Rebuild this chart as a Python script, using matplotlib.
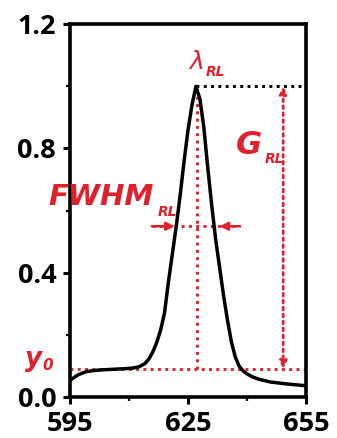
import matplotlib
matplotlib.use("Agg")
import matplotlib.pyplot as plt

RED = "#e0202a"

# spectrum
wavelength = [595, 597, 599, 601, 603, 606, 609, 611, 612.5, 614, 615, 616,
              617, 618, 619, 620, 621, 622, 623, 624, 625, 626, 627, 628,
              629, 630, 631, 632, 633, 634, 635, 636, 637, 638, 639, 640,
              641.5, 643, 646, 650, 655]
intensity = [0.055, 0.072, 0.082, 0.086, 0.088, 0.090, 0.092, 0.094, 0.098,
             0.108, 0.122, 0.145, 0.175, 0.215, 0.27, 0.37, 0.46, 0.55, 0.65,
             0.76, 0.86, 0.94, 1.0, 0.96, 0.87, 0.74, 0.62, 0.51, 0.42, 0.33,
             0.25, 0.18, 0.13, 0.10, 0.085, 0.075, 0.065, 0.058, 0.049,
             0.043, 0.037]

peak_x = 627.0
peak_y = 1.0
y0 = 0.092
half_y = 0.55
gain_x = 649.2
fwhm_left = (615.8, 621.6)
fwhm_right = (638.2, 633.0)

x_ticks = [595, 625, 655]
x_minor = [610, 640]
y_ticks = [0.0, 0.4, 0.8, 1.2]
y_minor = [0.2, 0.6, 1.0]

plt.rcParams["font.family"] = ["Open Sans", "DejaVu Sans"]

fig = plt.figure(figsize=(3.37, 4.38), dpi=100)
ax = fig.add_axes([0.208, 0.093, 0.700, 0.852])

ax.plot(wavelength, intensity, color="black", lw=2.5, solid_joinstyle="round",
        solid_capstyle="butt", zorder=3)

dot = dict(ls=(0, (1, 1.5)), lw=2.1)
# baseline y0 and peak marker lines
ax.plot([595, 655], [y0, y0], color=RED, **dot, zorder=2)
ax.plot([peak_x + 0.2, peak_x + 0.2], [y0, peak_y], color=RED, **dot, zorder=2)
ax.plot([peak_x, 655], [peak_y, peak_y], color="black", **dot, zorder=2)

# gain double arrow
ax.annotate("", xy=(gain_x, peak_y), xytext=(gain_x, y0),
            arrowprops=dict(arrowstyle="<|-|>", color=RED, lw=2.0, ls=(0, (1, 1.5)),
                            mutation_scale=11, shrinkA=0, shrinkB=0))

# FWHM arrows
ax.plot([fwhm_left[0], fwhm_right[0]], [half_y, half_y], color=RED, **dot, zorder=2)
for start, end in (fwhm_left, fwhm_right):
    ax.annotate("", xy=(end, half_y), xytext=(start, half_y),
                arrowprops=dict(arrowstyle="-|>", color=RED, lw=1.8,
                                mutation_scale=12, shrinkA=0, shrinkB=0))

ax.set_xlim(595, 655)
ax.set_ylim(0, 1.2)
ax.set_xticks(x_ticks)
ax.set_xticks(x_minor, minor=True)
ax.set_yticks(y_ticks)
ax.set_yticks(y_minor, minor=True)
ax.set_xticklabels([str(v) for v in x_ticks])
ax.set_yticklabels([f"{v:.1f}" for v in y_ticks])
for lab in ax.get_xticklabels() + ax.get_yticklabels():
    lab.set_fontweight("bold")
    lab.set_fontsize(19.5)
ax.tick_params(which="major", direction="out", length=5, width=2.2)
ax.tick_params(axis="y", which="major", pad=5)
ax.tick_params(axis="x", which="major", pad=5)
ax.tick_params(which="minor", direction="out", length=3, width=1.6)
for s in ax.spines.values():
    s.set_linewidth(2.6)

# labels
lab_font = dict(color=RED, fontweight="bold", fontstyle="italic",
                family=["DejaVu Sans"])
ax.text(625.0, 1.035, r"$\lambda$", color=RED, fontsize=18,
        ha="left", va="bottom")
ax.text(629.6, 1.025, "RL", fontsize=10, ha="left", va="bottom", **lab_font)
ax.text(637.2, 0.81, "G", fontsize=23, ha="left", va="center", **lab_font)
ax.text(644.6, 0.765, "RL", fontsize=10, ha="left", va="center", **lab_font)
ax.text(589.4, 0.645, "FWHM", fontsize=21, ha="left", va="center",
        clip_on=False, **lab_font)
ax.text(617.4, 0.595, "RL", fontsize=10, ha="left", va="center", **lab_font)
fig.text(0.074, 0.180, "y", fontsize=19, ha="left", va="center", **lab_font)
fig.text(0.126, 0.166, "0", fontsize=11, ha="left", va="center", **lab_font)

fig.savefig("out.png", dpi=100)
